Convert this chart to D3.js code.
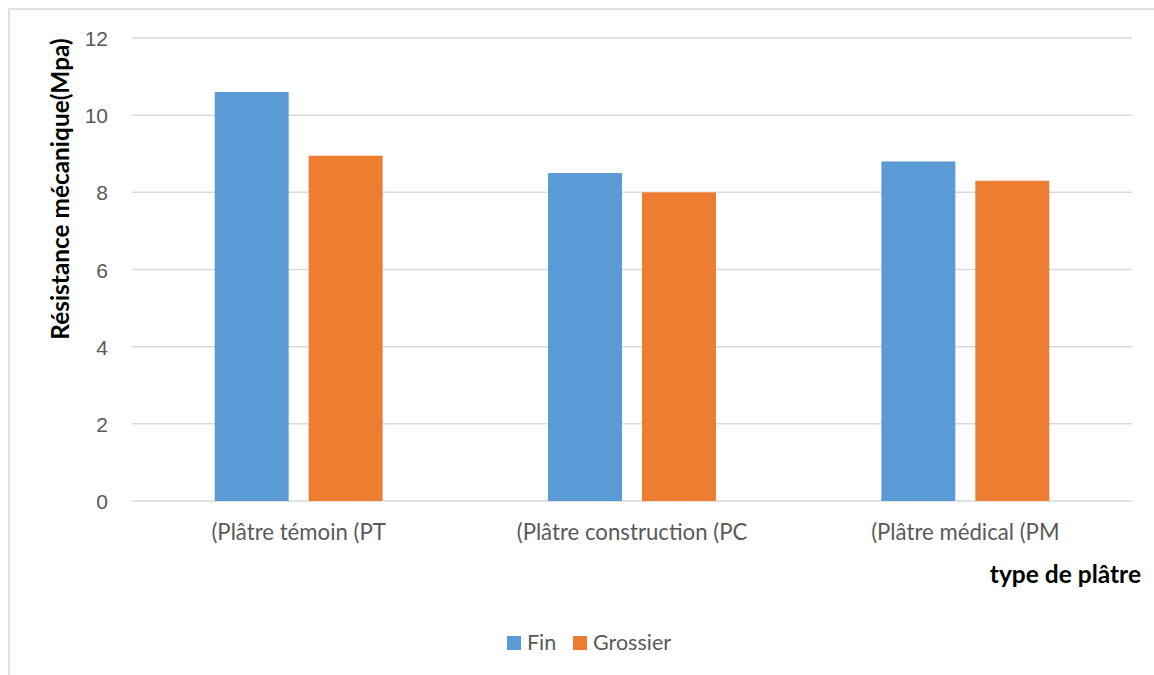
<!DOCTYPE html>
<html>
<head>
<meta charset="utf-8">
<script src="https://cdn.jsdelivr.net/npm/d3@7"></script>
<style>
  html, body { margin: 0; padding: 0; background: #fff; }
  svg { display: block; }
</style>
</head>
<body>
<svg id="chart" width="1154" height="675"></svg>
<script>
// Compressive strength by plaster type and grain size
const categories = ["(Plâtre témoin (PT", "(Plâtre construction (PC", "(Plâtre médical (PM"];
const seriesNames = ["Fin", "Grossier"];
const finValues = [10.6, 8.5, 8.8];
const grossierValues = [8.95, 8.0, 8.3];
const yTicks = [0, 2, 4, 6, 8, 10, 12];
const colors = ["#5b9bd5", "#ed7d31"];

const svg = d3.select("#chart");
const W = 1154, H = 675;

// Outer frame
svg.append("rect")
  .attr("x", 9).attr("y", 9)
  .attr("width", W + 10).attr("height", H + 10)
  .attr("fill", "#fff").attr("stroke", "#d9d9d9").attr("stroke-width", 1.5);

const plot = { left: 132, right: 1132, top: 38, bottom: 501 };

const x0 = d3.scaleBand().domain(categories).range([plot.left, plot.right]).paddingInner(0).paddingOuter(0);
const x1 = d3.scaleBand().domain(seriesNames).range([0, x0.bandwidth()]).paddingInner(0.213).paddingOuter(0.88);
const y = d3.scaleLinear().domain([0, 12]).range([plot.bottom, plot.top]);

// Gridlines
svg.append("g")
  .selectAll("line")
  .data(yTicks)
  .join("line")
  .attr("x1", plot.left).attr("x2", plot.right)
  .attr("y1", d => y(d)).attr("y2", d => y(d))
  .attr("stroke", "#d9d9d9").attr("stroke-width", 1.5);

// Y-axis tick labels
const yAxis = d3.axisLeft(y).tickValues(yTicks).tickSize(0).tickPadding(0);
const gy = svg.append("g").attr("transform", `translate(${108},0)`).call(yAxis);
gy.select(".domain").remove();
gy.selectAll("text")
  .attr("font-family", "Liberation Sans, Arial, sans-serif")
  .attr("font-size", 21)
  .attr("fill", "#595959")
  .attr("dy", "0.36em");

// Bars
const rows = categories.map((c, i) => ({ cat: c, vals: [finValues[i], grossierValues[i]] }));
const groups = svg.append("g").selectAll("g")
  .data(rows)
  .join("g")
  .attr("transform", d => `translate(${x0(d.cat)},0)`);
groups.selectAll("rect")
  .data(d => d.vals.map((v, j) => ({ name: seriesNames[j], v, j })))
  .join("rect")
  .attr("x", d => x1(d.name))
  .attr("width", x1.bandwidth())
  .attr("y", d => y(d.v))
  .attr("height", d => y(0) - y(d.v))
  .attr("fill", d => colors[d.j]);

// X-axis category labels
const xAxis = d3.axisBottom(x0).tickSize(0).tickPadding(0);
const gx = svg.append("g").attr("transform", `translate(0,${plot.bottom})`).call(xAxis);
gx.select(".domain").remove();
gx.selectAll("text")
  .attr("font-family", "Lato, 'Open Sans', sans-serif")
  .attr("font-size", 22.2)
  .attr("fill", "#595959")
  .attr("y", 39)
  .attr("dy", 0);

// Axis titles
svg.append("text")
  .attr("transform", `translate(69,189) rotate(-90)`)
  .attr("text-anchor", "middle")
  .attr("font-family", "Lato, 'Open Sans', sans-serif")
  .attr("font-weight", "bold")
  .attr("font-size", 24.4)
  .attr("fill", "#000")
  .text("Résistance mécanique(Mpa)");

svg.append("text")
  .attr("x", 1141).attr("y", 583)
  .attr("text-anchor", "end")
  .attr("font-family", "Lato, 'Open Sans', sans-serif")
  .attr("font-weight", "bold")
  .attr("font-size", 24.5)
  .attr("fill", "#000")
  .text("type de plâtre");

// Legend
const legend = svg.append("g");
const legendItems = [
  { name: seriesNames[0], color: colors[0], x: 507 },
  { name: seriesNames[1], color: colors[1], x: 573 }
];
const li = legend.selectAll("g").data(legendItems).join("g")
  .attr("transform", d => `translate(${d.x},636)`);
li.append("rect").attr("width", 14).attr("height", 14).attr("fill", d => d.color);
li.append("text")
  .attr("x", 20).attr("y", 14)
  .attr("font-family", "Lato, 'Open Sans', sans-serif")
  .attr("font-size", 21.5)
  .attr("fill", "#595959")
  .text(d => d.name);
</script>
</body>
</html>
